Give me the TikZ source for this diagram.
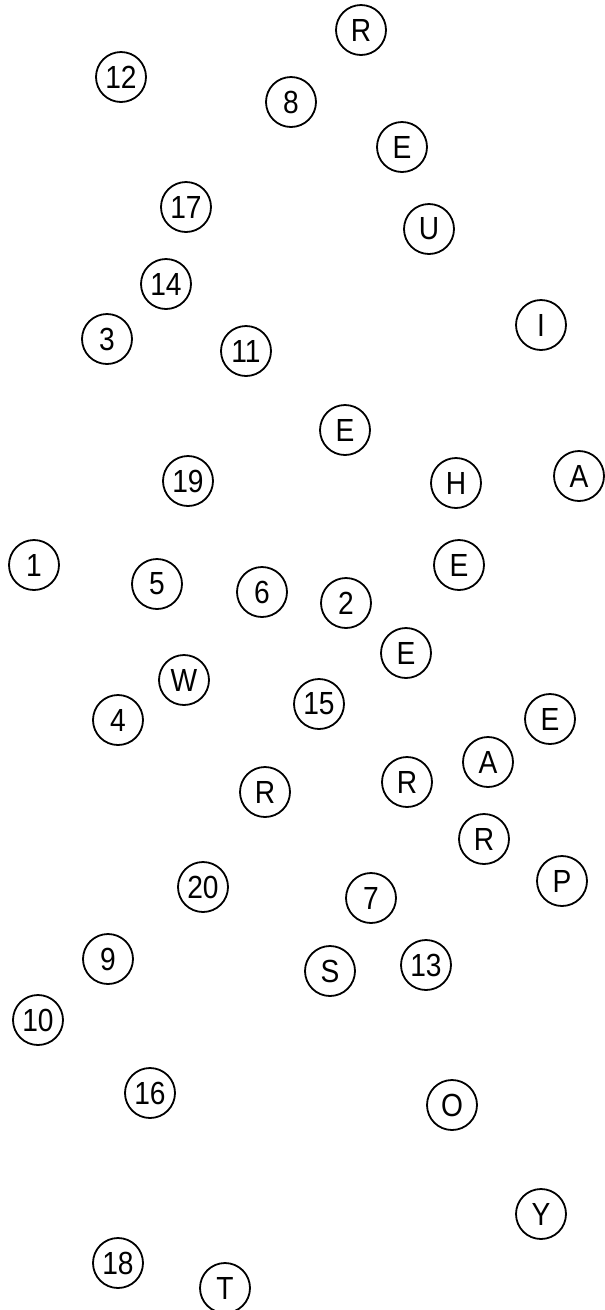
\documentclass[tikz,border=0pt]{standalone}
\usepackage{fontspec}
\setmainfont{Liberation Sans}
\newfontfamily\ballfont[FakeStretch=0.88]{Liberation Sans}
\begin{document}
\begin{tikzpicture}[x=1pt,y=-1pt,
  ball/.style={circle,draw=black,line width=1.8pt,minimum size=50pt,inner sep=0pt,
    font=\ballfont\fontsize{32}{32}\selectfont}]
\useasboundingbox (0,0) rectangle (605,1310);
% letters
\node[ball] (lR1) at (361,30)   {R};
\node[ball] (lE1) at (402,147)  {E};
\node[ball] (lU)  at (429,229)  {U};
\node[ball] (lI)  at (541,325)  {I};
\node[ball] (lE2) at (345,430)  {E};
\node[ball] (lH)  at (456,483)  {H};
\node[ball] (lA1) at (579,476)  {A};
\node[ball] (lE3) at (459,565)  {E};
\node[ball] (lE4) at (406,653)  {E};
\node[ball] (lW)  at (184,680)  {W};
\node[ball] (lE5) at (550,719)  {E};
\node[ball] (lA2) at (488,762)  {A};
\node[ball] (lR2) at (407,782)  {R};
\node[ball] (lR3) at (265,792)  {R};
\node[ball] (lR4) at (484,839)  {R};
\node[ball] (lP)  at (562,881)  {P};
\node[ball] (lS)  at (330,971)  {S};
\node[ball] (lO)  at (452,1105) {O};
\node[ball] (lY)  at (541,1214) {Y};
\node[ball] (lT)  at (225,1288) {T};
% numbers
\node[ball] (n1)  at (34,565)   {1};
\node[ball] (n2)  at (346,603)  {2};
\node[ball] (n3)  at (107,339)  {3};
\node[ball] (n4)  at (118,720)  {4};
\node[ball] (n5)  at (157,584)  {5};
\node[ball] (n6)  at (262,592)  {6};
\node[ball] (n7)  at (371,898)  {7};
\node[ball] (n8)  at (291,102)  {8};
\node[ball] (n9)  at (108,959)  {9};
\node[ball] (n10) at (38,1020)  {10};
\node[ball] (n11) at (246,351)  {11};
\node[ball] (n12) at (121,77)   {12};
\node[ball] (n13) at (426,965)  {13};
\node[ball] (n14) at (166,284)  {14};
\node[ball] (n15) at (319,704)  {15};
\node[ball] (n16) at (150,1093) {16};
\node[ball] (n17) at (186,207)  {17};
\node[ball] (n18) at (118,1263) {18};
\node[ball] (n19) at (188,481)  {19};
\node[ball] (n20) at (203,887)  {20};
\end{tikzpicture}
\end{document}
